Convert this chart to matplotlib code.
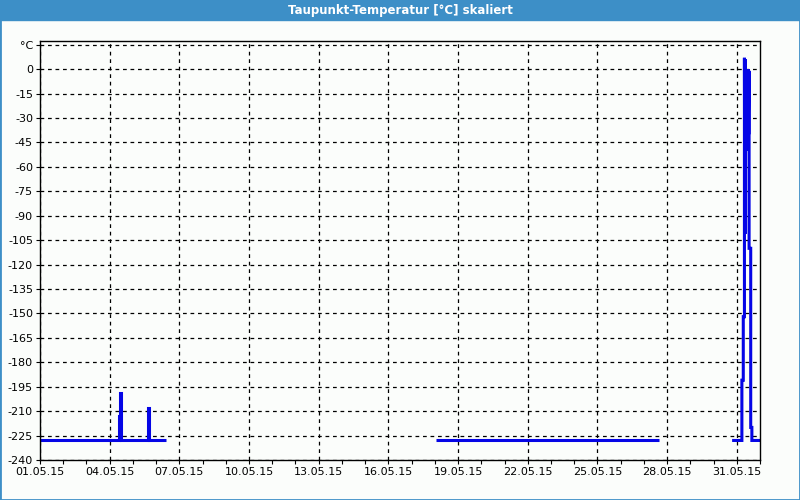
import matplotlib
matplotlib.use('Agg')
import matplotlib.pyplot as plt
import matplotlib.dates as mdates
import pandas as pd

TITLE = 'Taupunkt-Temperatur [°C] skaliert'
START = pd.Timestamp('2015-05-01')
END = pd.Timestamp('2015-06-01')

# days after 01.05.15 00:00 and dew point in degC, one list pair per recorded stretch
seg1_days = [0, 3.42, 3.42, 3.45, 3.45, 3.47, 3.47, 3.49, 3.49,
             4.64, 4.64, 4.67, 4.67, 4.70, 4.70, 4.71, 4.71, 5.42]
seg1_vals = [-228, -228, -213, -213, -199, -199, -201, -201, -228,
             -228, -218, -218, -208, -208, -209, -209, -228, -228]
seg2_days = [17.05, 26.63]
seg2_vals = [-228, -228]
seg3_days = [29.80, 30.22, 30.22, 30.28, 30.28, 30.33, 30.33, 30.345, 30.35, 30.355, 30.36,
             30.37, 30.39, 30.41, 30.43, 30.45, 30.47, 30.49, 30.51, 30.53,
             30.53, 30.60, 30.60, 30.65, 30.65, 31.0]
seg3_vals = [-228, -228, -191, -191, -152, -152, 7, -101, 6, -101, 6,
             0, -50, 0, -50, 0, -45, 0, -40, -1,
             -110, -110, -220, -220, -228, -228]

x_ticks = pd.date_range('2015-05-01', '2015-05-31', freq='3D')
y_ticks = list(range(-240, 16, 15))
y_labels = [str(v) for v in y_ticks[:-1]] + ['°C']

BLUE_BAR = '#3d8fc7'
LINE = '#0505e6'
BG = '#fbfdfb'

plt.rcParams['font.family'] = ['DejaVu Sans']
fig = plt.figure(figsize=(8, 5), dpi=100, facecolor=BG)

# window frame and title bar
fig.patches.append(plt.Rectangle((0, 0.96), 1, 0.04, transform=fig.transFigure, color=BLUE_BAR, zorder=0))
fig.patches.append(plt.Rectangle((0, 0), 1, 1, transform=fig.transFigure, fill=False,
                                 edgecolor=BLUE_BAR, linewidth=2, zorder=0))
fig.text(0.5, 0.979, TITLE, ha='center', va='center', color='white', fontsize=8.5, fontweight='bold')

ax = fig.add_axes([0.05, 0.08, 0.90, 0.8386])
ax.set_facecolor(BG)

for d, v in [(seg1_days, seg1_vals), (seg2_days, seg2_vals), (seg3_days, seg3_vals)]:
    t = START + pd.to_timedelta(d, unit='D')
    ax.plot(t, v, color=LINE, linewidth=2.2, solid_joinstyle='miter', solid_capstyle='butt')

ax.set_xlim(START, END)
ax.set_ylim(-240, 17.5)
ax.set_yticks(y_ticks)
ax.set_yticklabels(y_labels)
ax.set_xticks(x_ticks)
ax.xaxis.set_minor_locator(mdates.DayLocator())
ax.xaxis.set_major_formatter(mdates.DateFormatter('%d.%m.%y'))

ax.grid(True, which='major', color='black', linestyle=(0, (3, 3)), linewidth=0.9)
ax.tick_params(axis='both', which='major', labelsize=8, length=3, width=0.8, color='black', pad=2)
ax.tick_params(axis='x', which='minor', length=3, width=0.8)
ax.tick_params(axis='x', which='major', pad=2)
for s in ax.spines.values():
    s.set_linewidth(1)

fig.savefig('out.png', dpi=100, facecolor=BG)
